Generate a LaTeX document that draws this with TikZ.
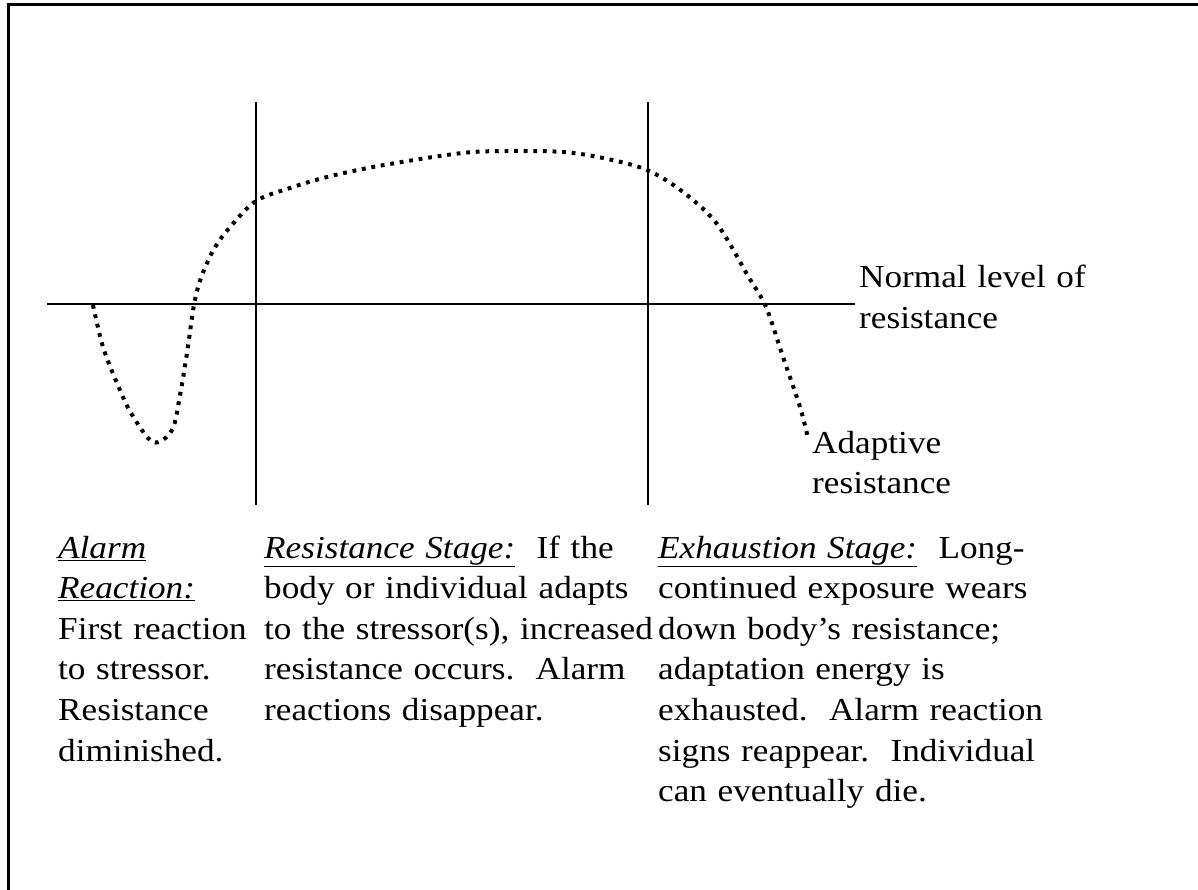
\documentclass[tikz,border=0pt]{standalone}
\usepackage{fontspec}
\setmainfont[FakeStretch=1.1]{Liberation Serif}
\begin{document}
\frenchspacing
\begin{tikzpicture}[x=1pt,y=-1pt,
  axisline/.style={line width=1.8pt,black},
  frameline/.style={line width=3pt,black},
  curvedots/.style={line width=4pt,dash pattern=on 3.8pt off 5.8pt,black},
  txt/.style={anchor=base west,inner sep=0pt,text width=420pt,align=left,
    font=\fontsize{32}{40.6}\selectfont}]
\useasboundingbox (0,0) rectangle (1198,890);
% frame
\coordinate (fTR) at (1198,5);
\coordinate (fTL) at (8.5,5);
\coordinate (fBL) at (8.5,890);
\draw[frameline] (fTR) -- (fTL) -- (fBL);
% axes
\coordinate (hL) at (47,304);
\coordinate (hR) at (855,304);
\coordinate (v1T) at (256,102);
\coordinate (v1B) at (256,505);
\coordinate (v2T) at (648,102);
\coordinate (v2B) at (648,505);
\draw[axisline] (hL) -- (hR);
\draw[axisline] (v1T) -- (v1B);
\draw[axisline] (v2T) -- (v2B);
% curve
\draw[curvedots] plot[smooth,tension=0.55] coordinates {
 (93,305) (103,347) (117,383) (131,413) (153,442) (172,430) (180,395)
 (187,353) (194,305) (201,278) (214,249) (231,226) (256,201) (290,188)
 (327,177) (373,167) (433,157) (473,152) (512,151) (563,152) (603,158)
 (647,170) (683,192) (717,224) (748,276) (766,307) (783,357) (800,407) (808,438)};
% labels
\node[txt] (normal) at (859,288) {Normal level of\\resistance};
\node[txt] (adapt) at (812,453) {Adaptive\\resistance};
\node[txt] (alarm) at (58,558) {\underline{\textit{Alarm}}\\\underline{\textit{Reaction:}}\\First reaction\\to stressor.\\Resistance\\diminished.};
\node[txt] (resist) at (264,558) {\underline{\textit{Resistance Stage:}}\ \ If the\\body or individual adapts\\to the stressor(s), increased\\resistance occurs.\ \ Alarm\\reactions disappear.};
\node[txt] (exhaust) at (658,558) {\underline{\textit{Exhaustion Stage:}}\ \ Long-\\continued exposure wears\\down body’s resistance;\\adaptation energy is\\exhausted.\ \ Alarm reaction\\signs reappear.\ \ Individual\\can eventually die.};
\end{tikzpicture}
\end{document}
